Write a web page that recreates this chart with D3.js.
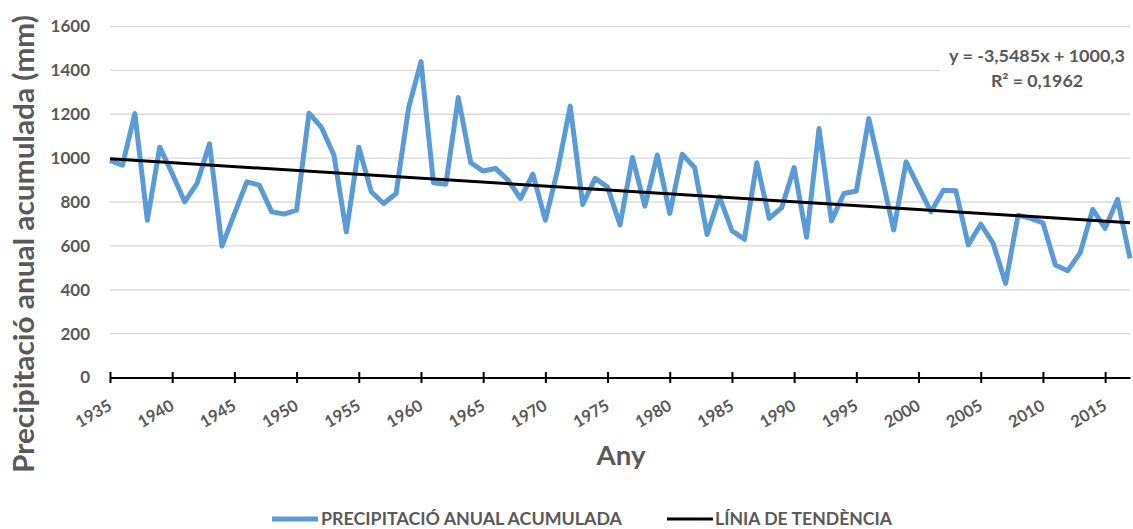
<!DOCTYPE html>
<html>
<head>
<meta charset="utf-8">
<script src="https://cdn.jsdelivr.net/npm/d3@7"></script>
<style>
  body { margin: 0; background: #fff; }
  text { font-family: Lato, "Open Sans", sans-serif; font-weight: 700; fill: #595959; }
</style>
</head>
<body>
<script>
// dades: precipitació anual acumulada (mm)
const years = [1935,1936,1937,1938,1939,1940,1941,1942,1943,1944,1945,1946,1947,1948,1949,
  1950,1951,1952,1953,1954,1955,1956,1957,1958,1959,1960,1961,1962,1963,1964,1965,1966,1967,1968,1969,
  1970,1971,1972,1973,1974,1975,1976,1977,1978,1979,1980,1981,1982,1983,1984,1985,1986,1987,1988,1989,
  1990,1991,1992,1993,1994,1995,1996,1997,1998,1999,2000,2001,2002,2003,2004,2005,2006,2007,2008,2009,
  2010,2011,2012,2013,2014,2015,2016,2017];
const precip = [990,968,1203,717,1050,930,801,885,1065,599,746,892,877,755,745,
  763,1205,1140,1014,664,1050,847,793,839,1228,1440,888,881,1276,979,941,953,900,816,927,
  717,950,1237,789,908,868,695,1003,781,1014,748,1018,957,652,824,669,630,979,725,774,
  957,639,1135,714,839,850,1180,930,672,983,869,755,854,851,604,699,611,429,740,725,
  705,513,487,569,766,680,812,543];
const xTicks = [1935,1940,1945,1950,1955,1960,1965,1970,1975,1980,1985,1990,1995,2000,2005,2010,2015];
const yTicks = [0,200,400,600,800,1000,1200,1400,1600];
const trendSlope = -3.5485, trendIntercept = 1000.3;
const eqLabels = ["y = -3,5485x + 1000,3", "R² = 0,1962"];
const legendLabels = ["PRECIPITACIÓ ANUAL ACUMULADA", "LÍNIA DE TENDÈNCIA"];

const WIDTH = 1133, HEIGHT = 529;

const svg = d3.select("body").append("svg")
  .attr("width", WIDTH)
  .attr("height", HEIGHT);

const x = d3.scaleLinear().domain([1935, 2017]).range([110, 1130]);
const y = d3.scaleLinear().domain([0, 1600]).range([377.5, 26.5]);

// graella
svg.append("g").selectAll("line")
  .data(yTicks.filter(d => d > 0))
  .enter().append("line")
  .attr("x1", x(1935)).attr("x2", x(2017))
  .attr("y1", d => y(d)).attr("y2", d => y(d))
  .attr("stroke", "#d9d9d9").attr("stroke-width", 1.3);

// etiquetes eix y
svg.append("g").selectAll("text")
  .data(yTicks)
  .enter().append("text")
  .attr("x", 90).attr("y", d => y(d))
  .attr("dy", "0.35em")
  .attr("text-anchor", "end")
  .style("font-size", "17px")
  .text(d => d);

// eix x
const xAxis = d3.axisBottom(x).tickValues(xTicks).tickSize(0).tickFormat("");
const gx = svg.append("g").attr("transform", `translate(0,${y(0)})`).call(xAxis);
gx.select(".domain").attr("stroke", "#000").attr("stroke-width", 2);
gx.selectAll(".tick line").attr("y1", -5.5).attr("y2", 5.5).attr("stroke", "#000").attr("stroke-width", 2);

svg.append("g").selectAll("text")
  .data(xTicks)
  .enter().append("text")
  .attr("transform", d => `translate(${x(d) + 3},409) rotate(-30)`)
  .attr("text-anchor", "end")
  .style("font-size", "16.5px")
  .text(d => d);

// sèrie
const line = d3.line().x((d, i) => x(years[i])).y(d => y(d));
svg.append("path")
  .datum(precip)
  .attr("d", line)
  .attr("fill", "none")
  .attr("stroke", "#5b9bd5")
  .attr("stroke-width", 5)
  .attr("stroke-linejoin", "round");

// línia de tendència
const trend = [years[0], years[years.length - 1]];
svg.append("line")
  .attr("x1", x(trend[0])).attr("y1", y(trendSlope * 1 + trendIntercept))
  .attr("x2", x(trend[1])).attr("y2", y(trendSlope * years.length + trendIntercept))
  .attr("stroke", "#000").attr("stroke-width", 3);

// equació
svg.append("rect").attr("x", 940).attr("y", 42).attr("width", 193).attr("height", 52).attr("fill", "#fff");
svg.append("text").attr("x", 1037).attr("y", 62).attr("text-anchor", "middle")
  .attr("textLength", 176).attr("lengthAdjust", "spacingAndGlyphs")
  .style("font-size", "17px").text(eqLabels[0]);
svg.append("text").attr("x", 1037).attr("y", 87).attr("text-anchor", "middle")
  .attr("textLength", 92).attr("lengthAdjust", "spacingAndGlyphs")
  .style("font-size", "17px").text(eqLabels[1]);

// títols
svg.append("text")
  .attr("transform", "translate(34,244) rotate(-90)")
  .attr("text-anchor", "middle")
  .attr("textLength", 458).attr("lengthAdjust", "spacingAndGlyphs")
  .style("font-size", "29px")
  .text("Precipitació anual acumulada (mm)");

svg.append("text")
  .attr("x", 621).attr("y", 465)
  .attr("text-anchor", "middle")
  .attr("textLength", 49).attr("lengthAdjust", "spacingAndGlyphs")
  .style("font-size", "26px")
  .text("Any");

// llegenda
const legend = [
  { x1: 272, x2: 318, tx: 321, len: 301, color: "#5b9bd5", w: 5 },
  { x1: 667, x2: 713, tx: 715, len: 177, color: "#000", w: 3 }
];
legend.forEach((l, i) => {
  svg.append("line").attr("x1", l.x1).attr("x2", l.x2).attr("y1", 519).attr("y2", 519)
    .attr("stroke", l.color).attr("stroke-width", l.w);
  svg.append("text").attr("x", l.tx).attr("y", 525)
    .attr("textLength", l.len).attr("lengthAdjust", "spacingAndGlyphs")
    .style("font-size", "16.5px").text(legendLabels[i]);
});
</script>
</body>
</html>
